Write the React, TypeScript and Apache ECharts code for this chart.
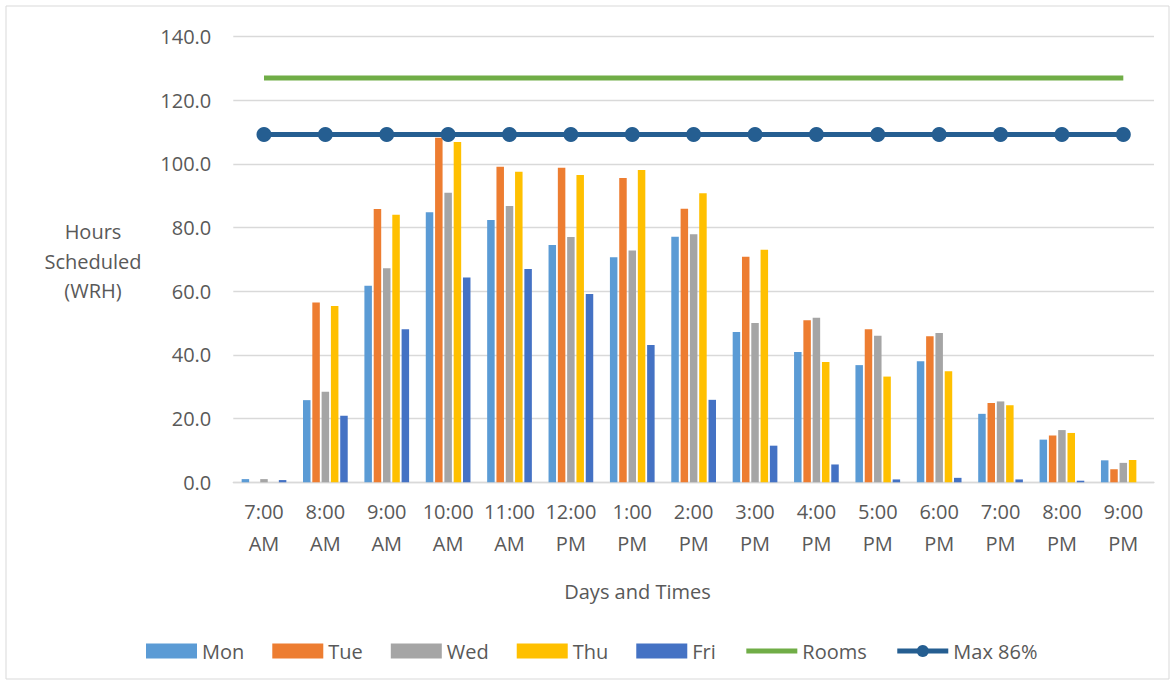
import React, { useEffect, useRef } from "react";
import * as echarts from "echarts";

const categories = [
  "7:00\nAM", "8:00\nAM", "9:00\nAM", "10:00\nAM", "11:00\nAM", "12:00\nPM", "1:00\nPM", "2:00\nPM",
  "3:00\nPM", "4:00\nPM", "5:00\nPM", "6:00\nPM", "7:00\nPM", "8:00\nPM", "9:00\nPM",
];
const mon = [1.0, 25.8, 61.7, 84.8, 82.4, 74.5, 70.7, 77.1, 47.2, 40.9, 36.8, 38.0, 21.5, 13.4, 6.9];
const tue = [0, 56.5, 85.8, 108.2, 99.1, 98.8, 95.6, 85.9, 70.8, 50.9, 48.1, 45.9, 24.9, 14.7, 4.1];
const wed = [1.0, 28.4, 67.2, 90.9, 86.8, 77.0, 72.8, 77.9, 50.0, 51.7, 46.0, 46.9, 25.4, 16.4, 6.1];
const thu = [0, 55.4, 84.0, 106.9, 97.5, 96.5, 98.1, 90.8, 73.0, 37.8, 33.2, 34.9, 24.2, 15.5, 7.0];
const fri = [0.7, 20.9, 48.1, 64.3, 67.0, 59.1, 43.1, 25.9, 11.5, 5.6, 0.9, 1.4, 0.9, 0.5, 0];
const rooms = categories.map(() => 127.0);
const max86 = categories.map(() => 109.2);

const FONT = "'Open Sans', sans-serif";
const TXT = "#595959";

export default function App() {
  const ref = useRef<HTMLDivElement>(null);
  useEffect(() => {
    const chart = echarts.init(ref.current!, null, { renderer: "svg" });
    const bar = (name: string, data: number[], color: string) => ({
      name,
      type: "bar",
      data,
      barWidth: 7.5,
      barGap: "24%",
      itemStyle: { color },
    });
    chart.setOption({
      animation: false,
      textStyle: { fontFamily: FONT },
      grid: { left: 233.3, right: 18, top: 36.5, bottom: 200.7 },
      legend: {
        left: 146,
        top: 641,
        padding: 0,
        itemWidth: 51,
        itemHeight: 15,
        itemGap: 28,
        textStyle: { fontFamily: FONT, fontSize: 20, color: TXT },
        data: [
          { name: "Mon", icon: "rect" },
          { name: "Tue", icon: "rect" },
          { name: "Wed", icon: "rect" },
          { name: "Thu", icon: "rect" },
          { name: "Fri", icon: "rect" },
          { name: "Rooms", itemStyle: { opacity: 0 }, lineStyle: { width: 5 } },
          { name: "Max 86%", lineStyle: { width: 5 } },
        ],
      },
      xAxis: {
        type: "category",
        data: categories,
        axisLine: { lineStyle: { color: "#D9D9D9", width: 1.3 } },
        axisTick: { show: false },
        axisLabel: {
          fontFamily: FONT,
          fontSize: 20,
          color: TXT,
          lineHeight: 32,
          margin: 13,
          interval: 0,
        },
      },
      yAxis: {
        type: "value",
        min: 0,
        max: 140,
        interval: 20,
        axisLine: { show: false },
        axisTick: { show: false },
        splitLine: { lineStyle: { color: "#D9D9D9", width: 1.3 } },
        axisLabel: {
          fontFamily: FONT,
          fontSize: 20,
          color: TXT,
          margin: 22,
          formatter: (v: number) => v.toFixed(1),
        },
      },
      graphic: [
        {
          type: "rect",
          shape: { x: 6, y: 6, width: 1163, height: 673 },
          style: { fill: "none", stroke: "#D9D9D9", lineWidth: 1 },
          silent: true,
        },
        {
          type: "text",
          x: 93,
          y: 261,
          style: {
            text: "Hours\nScheduled\n(WRH)",
            fontFamily: FONT,
            fontSize: 20,
            lineHeight: 29.5,
            fill: TXT,
            align: "center",
            verticalAlign: "middle",
          },
        },
        {
          type: "text",
          x: 637.5,
          y: 591,
          style: {
            text: "Days and Times",
            fontFamily: FONT,
            fontSize: 20,
            fill: TXT,
            align: "center",
            verticalAlign: "middle",
          },
        },
      ],
      series: [
        bar("Mon", mon, "#5B9BD5"),
        bar("Tue", tue, "#ED7D31"),
        bar("Wed", wed, "#A5A5A5"),
        bar("Thu", thu, "#FFC000"),
        bar("Fri", fri, "#4472C4"),
        {
          name: "Rooms",
          type: "line",
          data: rooms,
          symbol: "none",
          lineStyle: { color: "#70AD47", width: 5 },
          itemStyle: { color: "#70AD47" },
        },
        {
          name: "Max 86%",
          type: "line",
          data: max86,
          symbol: "circle",
          symbolSize: 15,
          lineStyle: { color: "#255E91", width: 5 },
          itemStyle: { color: "#255E91" },
        },
      ],
    });
    return () => chart.dispose();
  }, []);
  return (
    <div
      ref={ref}
      style={{ position: "absolute", left: 0, top: 0, width: 1172, height: 683, background: "#fff" }}
    />
  );
}
